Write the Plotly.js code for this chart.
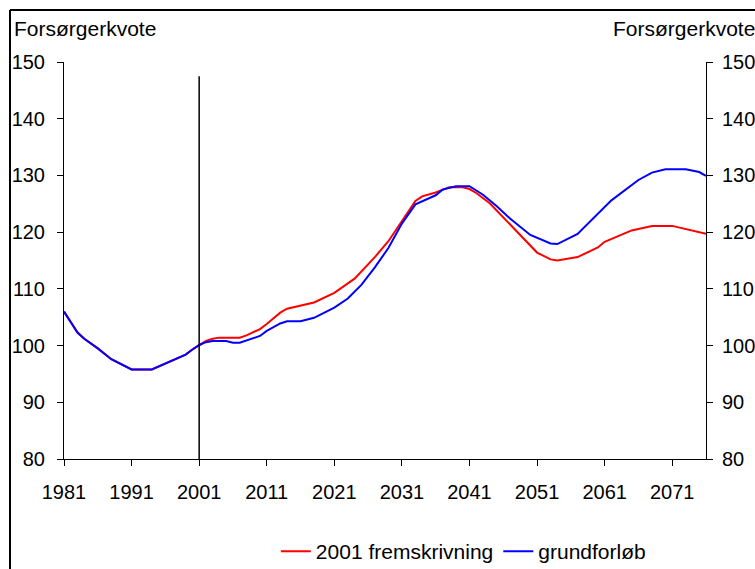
<!DOCTYPE html>
<html>
<head>
<meta charset="utf-8">
<script src="https://cdn.plot.ly/plotly-3.0.1.min.js"></script>
<style>html,body{margin:0;padding:0;background:#fff;}#chart{width:755px;height:569px;}</style>
</head>
<body>
<div id="chart"></div>
<script>
// Historical (shared) part
const histYears  = [1981, 1983, 1984, 1986, 1988, 1991, 1994, 1995, 1999, 2000, 2001];
const histValues = [106.0, 102.3, 101.2, 99.5, 97.6, 95.8, 95.8, 96.3, 98.4, 99.3, 100.1];

// 2001 fremskrivning (red)
const redYears  = [2002, 2003, 2004, 2007, 2008, 2010, 2011, 2013, 2014, 2018, 2021, 2024, 2027, 2029, 2031, 2033, 2034, 2036, 2038, 2040, 2041, 2042, 2044, 2046, 2047, 2051, 2053, 2054, 2057, 2060, 2061, 2063, 2064, 2065, 2068, 2071, 2076];
const redValues = [100.8, 101.2, 101.4, 101.4, 101.8, 102.9, 103.8, 105.8, 106.5, 107.6, 109.3, 111.8, 115.6, 118.4, 122.0, 125.5, 126.3, 127.0, 127.9, 127.9, 127.6, 126.9, 125.1, 122.6, 121.3, 116.4, 115.2, 115.0, 115.6, 117.3, 118.3, 119.3, 119.7, 120.3, 121.1, 121.1, 119.7];

// grundforløb (blue)
const blueYears  = [2002, 2003, 2005, 2006, 2007, 2010, 2011, 2013, 2014, 2016, 2018, 2021, 2023, 2025, 2027, 2029, 2031, 2033, 2036, 2037, 2039, 2041, 2043, 2044, 2045, 2047, 2050, 2053, 2054, 2057, 2062, 2066, 2068, 2070, 2073, 2075, 2076];
const blueValues = [100.6, 100.8, 100.8, 100.5, 100.5, 101.7, 102.6, 103.9, 104.3, 104.3, 104.9, 106.7, 108.3, 110.7, 113.8, 117.2, 121.5, 124.9, 126.5, 127.5, 128.1, 128.1, 126.6, 125.6, 124.6, 122.4, 119.5, 118.0, 117.9, 119.7, 125.6, 129.2, 130.5, 131.1, 131.1, 130.6, 129.9];

const tickYears = [1981, 1991, 2001, 2011, 2021, 2031, 2041, 2051, 2061, 2071];
const yTicks = [80, 90, 100, 110, 120, 130, 140, 150];
const seriesNames = ["2001 fremskrivning", "grundforløb"];
const axisTitle = "Forsørgerkvote";
const markerYear = 2001;

const FONT = "Liberation Sans, Arial, sans-serif";
const fsz = 20;
const fszBig = 21;

const traces = [
  {x: histYears.concat(redYears), y: histValues.concat(redValues), type: "scatter", mode: "lines",
   name: seriesNames[0], line: {color: "#ff0000", width: 2}},
  {x: histYears.concat(blueYears), y: histValues.concat(blueValues), type: "scatter", mode: "lines",
   name: seriesNames[1], line: {color: "#0000ff", width: 2}},
  {x: [1981], y: [100], yaxis: "y2", type: "scatter", mode: "none", showlegend: false, hoverinfo: "skip"}
];

const yax = {
  range: [80, 150], tickvals: yTicks, ticks: "outside", ticklen: 6, tickcolor: "#000",
  showline: true, linecolor: "#000", linewidth: 1, showgrid: false, zeroline: false,
  tickfont: {family: FONT, size: fsz, color: "#000"}, ticklabelstandoff: 8, fixedrange: true
};

const layout = {
  width: 755, height: 569,
  margin: {l: 64, r: 49, t: 62, b: 110},
  paper_bgcolor: "#fff", plot_bgcolor: "#fff",
  showlegend: true,
  legend: {orientation: "h", x: 0.33, xanchor: "left", xref: "paper", y: 0.0668, yanchor: "top", yref: "container",
           font: {family: FONT, size: fszBig, color: "#000"}, bgcolor: "rgba(0,0,0,0)", itemwidth: 30},
  xaxis: {
    range: [1981, 2076], tickvals: tickYears, ticks: "outside", ticklen: 6, tickcolor: "#000",
    showline: true, linecolor: "#000", linewidth: 1, showgrid: false, zeroline: false,
    tickfont: {family: FONT, size: fsz, color: "#000"}, ticklabelstandoff: 9, fixedrange: true
  },
  yaxis: Object.assign({}, yax),
  yaxis2: Object.assign({}, yax, {overlaying: "y", side: "right", ticklabelstandoff: 5}),
  annotations: [
    {text: axisTitle, xref: "paper", yref: "paper", x: 0, y: 1, xanchor: "left", yanchor: "middle",
     xshift: -52, yshift: 34, showarrow: false, font: {family: FONT, size: fszBig, color: "#000"}},
    {text: axisTitle, xref: "paper", yref: "paper", x: 1, y: 1, xanchor: "right", yanchor: "middle",
     xshift: 51, yshift: 34, showarrow: false, font: {family: FONT, size: fszBig, color: "#000"}}
  ],
  shapes: [
    {type: "line", xref: "x", yref: "y", x0: markerYear, x1: markerYear, y0: 78.8, y1: 147.5,
     line: {color: "#000", width: 1.5}},
    {type: "line", xref: "paper", yref: "paper", x0: -0.0841, x1: -0.0841, y0: 1.131, y1: -0.3,
     line: {color: "#000", width: 2}},
    {type: "line", xref: "paper", yref: "paper", x0: -0.0841, x1: 1.1, y0: 1.131, y1: 1.131,
     line: {color: "#000", width: 2}}
  ]
};

Plotly.newPlot("chart", traces, layout, {staticPlot: true, displayModeBar: false});
</script>
</body>
</html>
